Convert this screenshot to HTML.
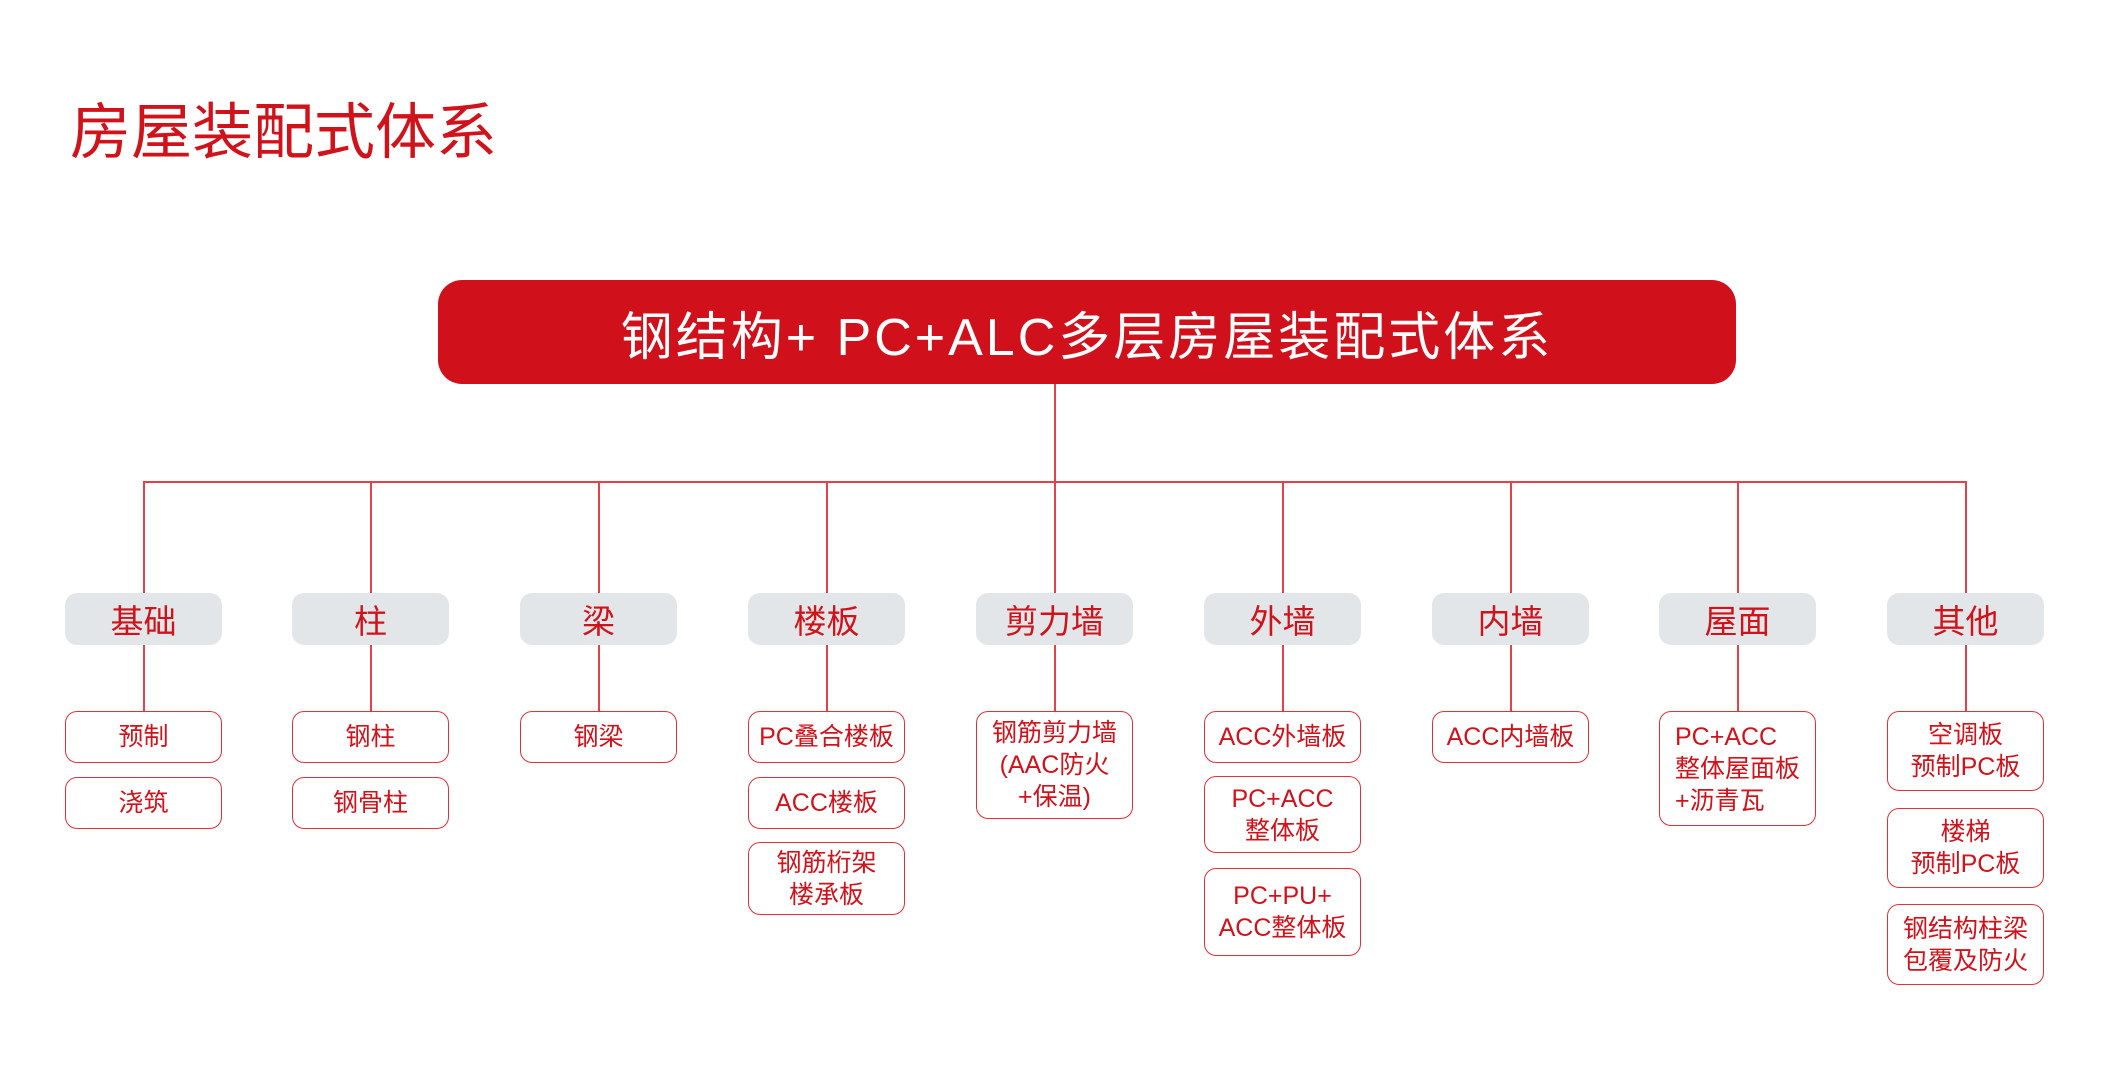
<!DOCTYPE html>
<html><head><meta charset="utf-8"><style>
body{margin:0;width:2111px;height:1087px;background:#fff;position:relative;overflow:hidden;font-family:"Liberation Sans","Noto Sans CJK SC",sans-serif;}
.t{position:absolute;left:70px;top:82px;font-size:61px;color:#d0121b;}
.main{position:absolute;left:438px;top:280px;width:1298px;height:104px;background:#d0111c;border-radius:24px;color:#fff;font-size:52px;letter-spacing:3px;display:flex;align-items:center;justify-content:center;}
.l{position:absolute;background:#e2434b;}
.cat{position:absolute;top:593px;width:157px;height:52px;background:#e3e6e9;border-radius:12px;color:#d0121b;font-size:33px;display:flex;align-items:center;justify-content:center;}
.c{position:absolute;width:157px;border:1.5px solid #e0303a;border-radius:12px;background:#fff;color:#d0121b;font-size:25px;line-height:32px;display:flex;align-items:center;justify-content:center;text-align:center;box-sizing:border-box;}
</style></head><body>
<div class="t">房屋装配式体系</div>
<div class="main">钢结构+ PC+ALC多层房屋装配式体系</div>
<div class="l" style="left:1054px;top:384px;width:2px;height:98px"></div>
<div class="l" style="left:144px;top:481px;width:1823px;height:2px"></div>
<div class="l" style="left:143px;top:481px;width:2px;height:231px"></div>
<div class="l" style="left:370px;top:481px;width:2px;height:231px"></div>
<div class="l" style="left:598px;top:481px;width:2px;height:231px"></div>
<div class="l" style="left:826px;top:481px;width:2px;height:231px"></div>
<div class="l" style="left:1054px;top:481px;width:2px;height:231px"></div>
<div class="l" style="left:1282px;top:481px;width:2px;height:231px"></div>
<div class="l" style="left:1510px;top:481px;width:2px;height:231px"></div>
<div class="l" style="left:1737px;top:481px;width:2px;height:231px"></div>
<div class="l" style="left:1965px;top:481px;width:2px;height:231px"></div>

<div class="cat" style="left:65px">基础</div>
<div class="cat" style="left:292px">柱</div>
<div class="cat" style="left:520px">梁</div>
<div class="cat" style="left:748px">楼板</div>
<div class="cat" style="left:976px">剪力墙</div>
<div class="cat" style="left:1204px">外墙</div>
<div class="cat" style="left:1432px">内墙</div>
<div class="cat" style="left:1659px">屋面</div>
<div class="cat" style="left:1887px">其他</div>

<div class="c" style="left:65px;top:711px;height:52px">预制</div>
<div class="c" style="left:65px;top:777px;height:52px">浇筑</div>
<div class="c" style="left:292px;top:711px;height:52px">钢柱</div>
<div class="c" style="left:292px;top:777px;height:52px">钢骨柱</div>
<div class="c" style="left:520px;top:711px;height:52px">钢梁</div>
<div class="c" style="left:748px;top:711px;height:52px">PC叠合楼板</div>
<div class="c" style="left:748px;top:777px;height:52px">ACC楼板</div>
<div class="c" style="left:748px;top:842px;height:73px">钢筋桁架<br>楼承板</div>
<div class="c" style="left:976px;top:711px;height:108px">钢筋剪力墙<br>(AAC防火<br>+保温)</div>
<div class="c" style="left:1204px;top:711px;height:52px">ACC外墙板</div>
<div class="c" style="left:1204px;top:776px;height:77px">PC+ACC<br>整体板</div>
<div class="c" style="left:1204px;top:868px;height:88px">PC+PU+<br>ACC整体板</div>
<div class="c" style="left:1432px;top:711px;height:52px">ACC内墙板</div>
<div class="c" style="left:1659px;top:711px;height:115px;text-align:left">PC+ACC<br>整体屋面板<br>+沥青瓦</div>
<div class="c" style="left:1887px;top:711px;height:80px">空调板<br>预制PC板</div>
<div class="c" style="left:1887px;top:808px;height:80px">楼梯<br>预制PC板</div>
<div class="c" style="left:1887px;top:904px;height:81px">钢结构柱梁<br>包覆及防火</div>
</body></html>
